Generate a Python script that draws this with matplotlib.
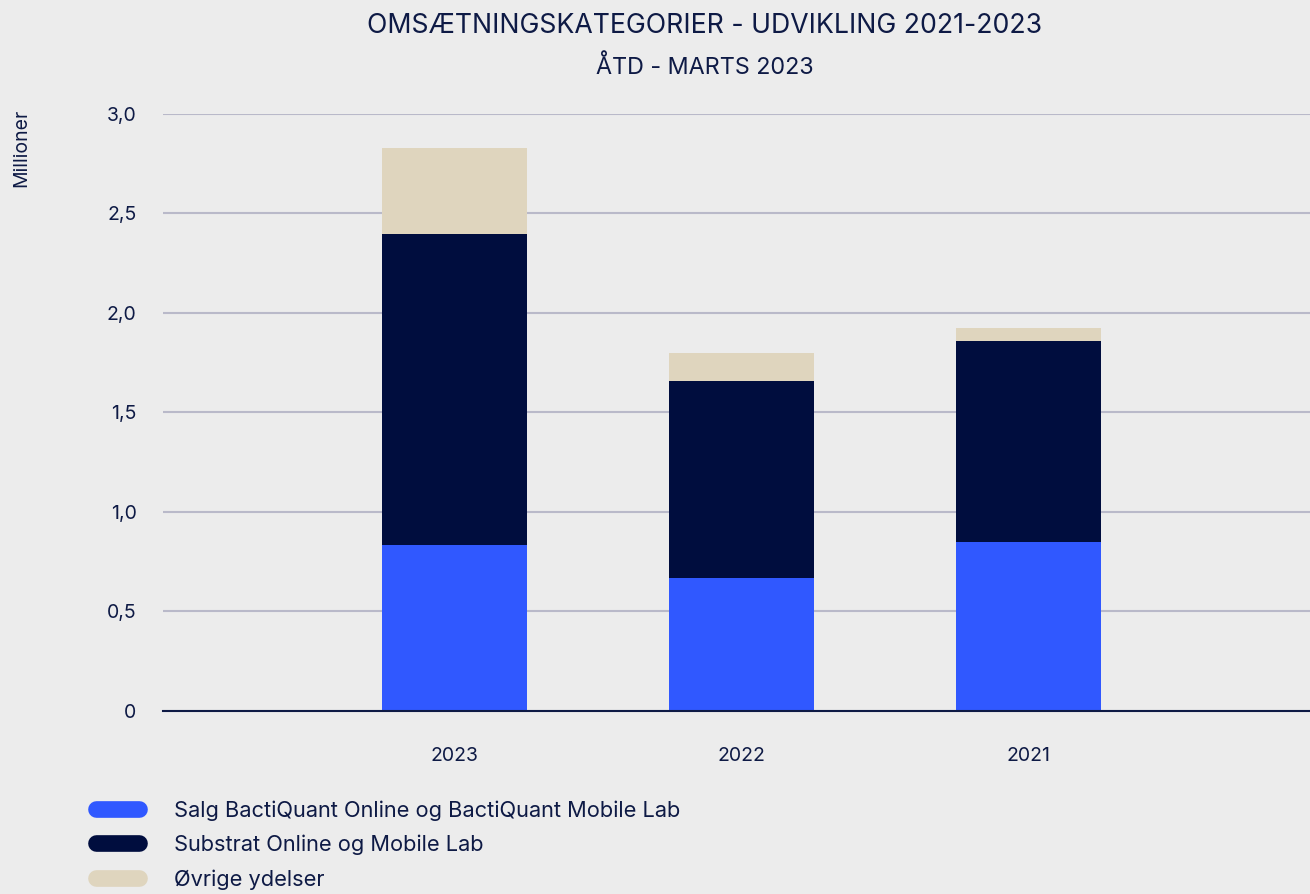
import matplotlib.pyplot as plt
from matplotlib.lines import Line2D
from matplotlib.ticker import FuncFormatter

plt.rcParams["font.family"] = ["Inter", "DejaVu Sans"]

# ---------- DATA ----------
years = ["2023", "2022", "2021"]
salg = [0.834, 0.668, 0.849]
substrat = [1.563, 0.990, 1.010]
oevrige = [0.432, 0.141, 0.066]

labels = ["Salg BactiQuant Online og BactiQuant Mobile Lab",
          "Substrat Online og Mobile Lab",
          "Øvrige ydelser"]
colors = ["#3058FF", "#000D3E", "#DFD5BE"]

bg = "#ECECEC"
txt = "#0E1A45"

fig = plt.figure(figsize=(13.1, 8.94), dpi=100, facecolor=bg)
ax = fig.add_axes([0.1244, 0.2047, 0.8756, 0.6678], facecolor=bg)

x = range(len(years))
bottom2 = [a + b for a, b in zip(salg, substrat)]
ax.bar(x, salg, width=0.505, color=colors[0], zorder=3)
ax.bar(x, substrat, width=0.505, bottom=salg, color=colors[1], zorder=3)
ax.bar(x, oevrige, width=0.505, bottom=bottom2, color=colors[2], zorder=3)

ax.set_xlim(-1.017, 2.98)
ax.set_ylim(0, 3.0)
ax.set_yticks([0, 0.5, 1.0, 1.5, 2.0, 2.5, 3.0])
ax.yaxis.set_major_formatter(FuncFormatter(
    lambda v, p: "0" if v == 0 else f"{v:.1f}".replace(".", ",")))
ax.set_xticks(list(x))
ax.set_xticklabels(years)
ax.grid(axis="y", color="#B9B9C9", linewidth=1.5, zorder=0)
for s in ["top", "right", "left"]:
    ax.spines[s].set_visible(False)
ax.spines["bottom"].set_color(txt)
ax.spines["bottom"].set_linewidth(1.5)
ax.spines["bottom"].set_zorder(4)
ax.tick_params(axis="both", length=0, labelsize=14, labelcolor=txt)
ax.tick_params(axis="y", pad=19)
ax.tick_params(axis="x", pad=26)

fig.text(0.0165, 0.878, "Millioner", rotation=90, ha="center", va="top",
         fontsize=14, color=txt)
fig.text(0.538, 0.971, "OMSÆTNINGSKATEGORIER - UDVIKLING 2021-2023",
         ha="center", va="center", fontsize=19.2, color=txt)
fig.text(0.538, 0.925, "ÅTD - MARTS 2023", ha="center", va="center",
         fontsize=16.8, color=txt)

handles = [Line2D([], [], color=c, linewidth=12, solid_capstyle="round")
           for c in colors]
fig.legend(handles, labels, loc="lower left", bbox_to_anchor=(0.058, -0.017),
           frameon=False, fontsize=15.7, labelcolor=txt, handlelength=2.0,
           handletextpad=1.6, labelspacing=0.64)

fig.savefig("out.png", dpi=100, facecolor=bg)
